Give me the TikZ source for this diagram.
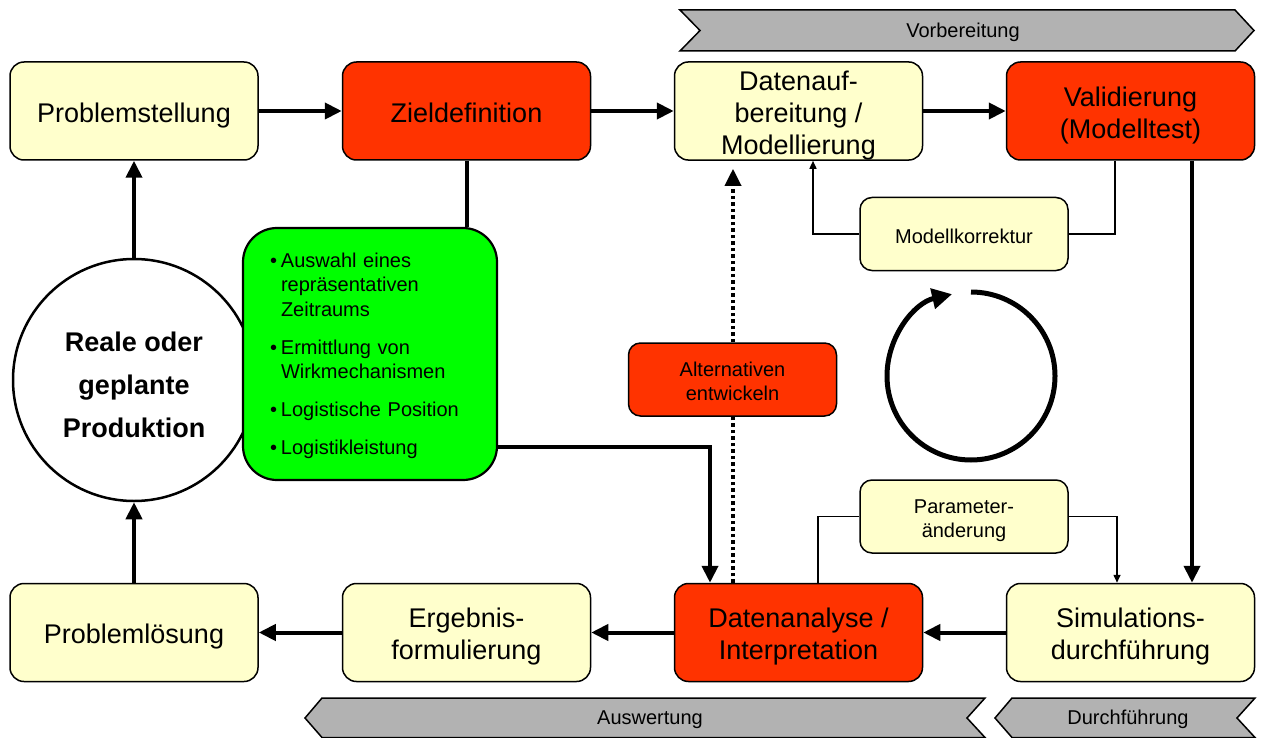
\documentclass[tikz,border=0pt]{standalone}
\usepackage{fontspec}
\setmainfont{Liberation Sans}
\usetikzlibrary{arrows.meta}

\definecolor{paleyellow}{RGB}{255,255,204}
\definecolor{signalred}{RGB}{255,51,0}
\definecolor{brightgreen}{RGB}{0,255,0}
\definecolor{bandgray}{RGB}{178,178,178}

% fixed line metrics: a tall strut opens the first line, a deep one closes the last
\newcommand{\boxtop}{\rule[-5.7pt]{0pt}{34.1pt}}
\newcommand{\boxend}{\rule[-5.7pt]{0pt}{5.7pt}}
\newcommand{\realtop}{\rule[-5.7pt]{0pt}{40.1pt}}
\newcommand{\smalltop}{\rule[-4.25pt]{0pt}{27.15pt}}
\newcommand{\smallend}{\rule[-4.25pt]{0pt}{4.25pt}}
\newcommand{\bandstrut}{\rule[-4.25pt]{0pt}{22.35pt}}

\tikzset{
  box/.style={draw=black, line width=1.5pt, rounded corners=14pt,
    minimum width=248pt, minimum height=98pt, inner sep=0pt,
    align=center, font=\fontsize{27}{32}\selectfont},
  stage/.style={box, fill=paleyellow},
  keystage/.style={box, fill=signalred},
  smallbox/.style={draw=black, line width=1.5pt, rounded corners=12pt,
    minimum width=208pt, minimum height=73pt, inner sep=0pt,
    align=center, font=\fontsize{20}{24}\selectfont},
  greenbox/.style={draw=black, line width=2.2pt, rounded corners=34pt,
    fill=brightgreen, text width=200pt, inner xsep=27pt, inner ysep=0pt,
    minimum height=252pt, align=left, font=\fontsize{20}{24.5}\selectfont},
  realbox/.style={draw=black, circle, line width=2.5pt, fill=white,
    minimum size=242pt, inner sep=0pt, align=center,
    font=\bfseries\fontsize{27}{43}\selectfont},
  flow/.style={line width=4pt, -{Triangle[length=17pt,width=16pt]}},
  plainflow/.style={line width=4pt},
  altflow/.style={line width=3.5pt, dash pattern=on 3.5pt off 3pt,
    -{Triangle[length=17pt,width=16pt]}, shorten >=8pt},
  feedback/.style={line width=1.5pt, -{Triangle[length=8pt,width=7pt]}},
  feedplain/.style={line width=1.5pt},
  cyclearrow/.style={line width=5pt, -{Triangle[length=20pt,width=20pt]}},
  band/.style={draw=black, line width=1.5pt, fill=bandgray},
  bandlabel/.style={font=\fontsize{20}{24}\selectfont},
}

\newcommand{\bul}{\makebox[11pt][l]{•}}
\newcommand{\ind}{\hspace*{11pt}}

\begin{document}
\begin{tikzpicture}[x=1pt,y=-1pt]
\useasboundingbox (0,0) rectangle (1263,738);

% phase bands
\filldraw[band] (680,10) -- (1235,10) -- (1254,30.5) -- (1235,51) -- (680,51) -- (700,30.5) -- cycle;
\node[bandlabel] (prep) at (963,30.5) {\bandstrut Vorbereitung};
\filldraw[band] (305,718) -- (322,698) -- (985,698) -- (967,718) -- (985,737.5) -- (322,737.5) -- cycle;
\node[bandlabel] (eval) at (650,718) {\bandstrut Auswertung};
\filldraw[band] (995,718) -- (1012,698) -- (1255,698) -- (1237,718) -- (1255,737.5) -- (1012,737.5) -- cycle;
\node[bandlabel] (exec) at (1128,718) {\bandstrut Durchführung};

% process steps
\node[stage]    (ps) at (134,111)    {\boxtop Problemstellung\boxend};
\node[keystage] (zd) at (466.5,111)  {\boxtop Zieldefinition\boxend};
\node[stage]    (da) at (798.5,111)  {\boxtop Datenauf-\\bereitung /\\Modellierung\boxend};
\node[keystage] (va) at (1130.5,111) {\boxtop Validierung\\(Modelltest)\boxend};
\node[stage]    (pl) at (134,632.5)    {\boxtop Problemlösung\boxend};
\node[stage]    (ef) at (466.5,632.5)  {\boxtop Ergebnis-\\formulierung\boxend};
\node[keystage] (an) at (798.5,632.5)  {\boxtop Datenanalyse /\\Interpretation\boxend};
\node[stage]    (sd) at (1130.5,632.5) {\boxtop Simulations-\\durchführung\boxend};

% production and goal details
\node[realbox] (rp) at (134,380) {\realtop Reale oder\\geplante\\Produktion\boxend};
\node[greenbox] (gb) at (370,354) {%
  \bandstrut\bul Auswahl eines\\
  \ind repräsentativen\\
  \ind Zeitraums\\[13.5pt]
  \bul Ermittlung von\\
  \ind Wirkmechanismen\\[13.5pt]
  \bul Logistische Position\\[13.5pt]
  \bul Logistikleistung\smallend};

% helper positions for the orthogonal connectors
\coordinate (gbout) at (0,447);
\coordinate (anin)  at (710,0);
\coordinate (altx)  at (733,0);
\coordinate (mkl)   at (813,0);
\coordinate (mkr)   at (1115,0);
\coordinate (pal)   at (818,0);
\coordinate (par)   at (1117,0);
\coordinate (vx)    at (1192,0);
\coordinate (cyc)   at (971,376);

% alternative loop (behind its label box)
\draw[altflow] (an.north -| altx) -- (da.south -| altx);
\node[smallbox, fill=signalred] (ae) at (732.5,379.5) {\smalltop Alternativen\\entwickeln\smallend};

% correction boxes
\node[smallbox, fill=paleyellow] (mk) at (964,234)   {\smalltop Modellkorrektur\smallend};
\node[smallbox, fill=paleyellow] (pa) at (964,516.5) {\smalltop Parameter-\\änderung\smallend};

% main flow
\draw[flow] (ps) -- (zd);
\draw[flow] (zd) -- (da);
\draw[flow] (da) -- (va);
\draw[flow] (rp) -- (ps);
\draw[flow] (pl) -- (rp);
\draw[flow] (sd) -- (an);
\draw[flow] (an) -- (ef);
\draw[flow] (ef) -- (pl);
\draw[flow] (va.south -| vx) -- (sd.north -| vx);
\draw[plainflow] (zd.south) -- (zd.south |- gb.north);
\draw[flow] (gb.east |- gbout) -| (an.north -| anin);

% feedback loops
\draw[feedplain] (va.south -| mkr) |- (mk.east);
\draw[feedback] (mk.west) -| (da.south -| mkl);
\draw[feedplain] (an.north -| pal) |- (pa.west);
\draw[feedback] (pa.east) -| (sd.north -| par);

% iteration symbol
\draw[cyclearrow] (cyc) ++(0,-84) arc[start angle=-90, end angle=257, radius=84];
\end{tikzpicture}
\end{document}
